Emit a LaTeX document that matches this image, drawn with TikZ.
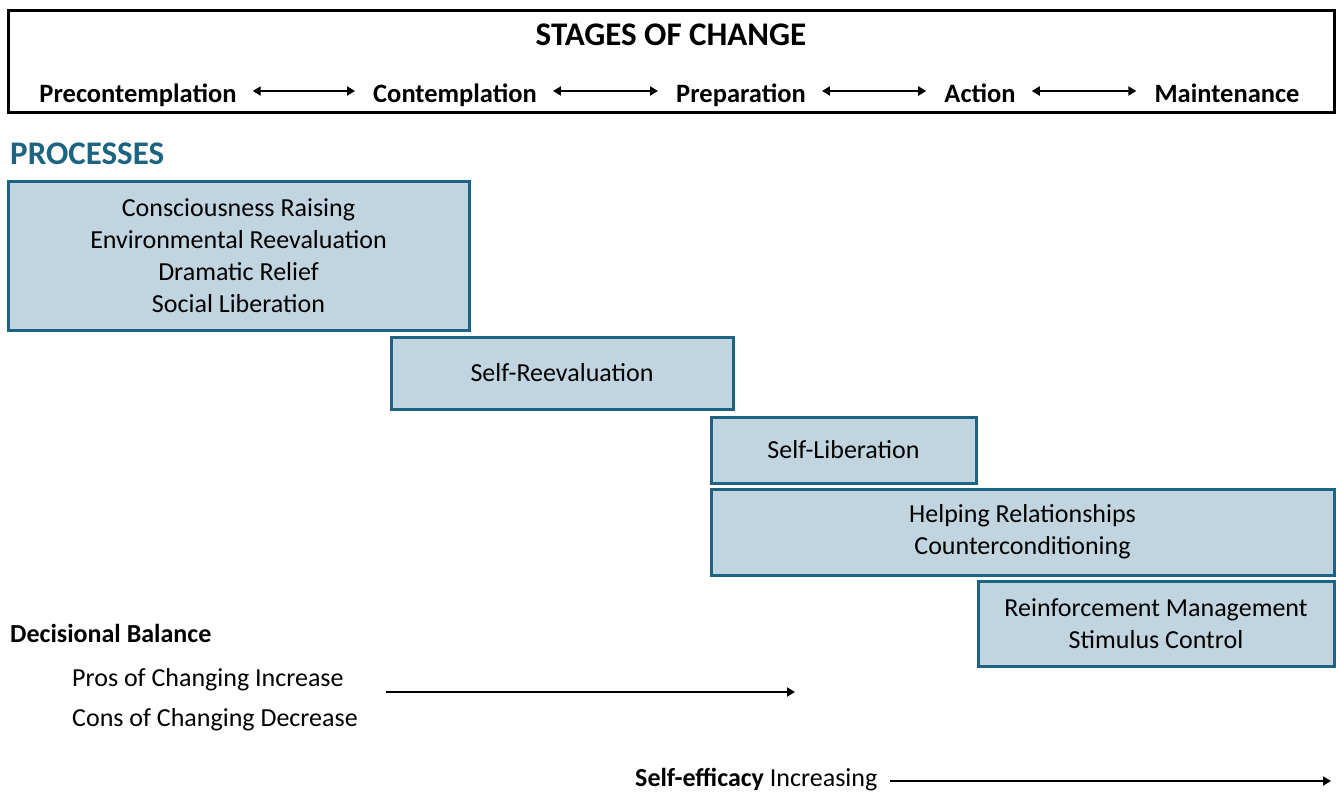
\documentclass[tikz,border=0pt]{standalone}
\usepackage{fontspec}
\setmainfont{Carlito}
\usetikzlibrary{arrows.meta}
\definecolor{teal1}{HTML}{1D6482}
\definecolor{boxfill}{HTML}{C1D5E0}
\begin{document}
\begin{tikzpicture}[x=1pt,y=-1pt,
  stage/.style={font=\fontsize{26.5}{30}\selectfont\bfseries, inner sep=0pt, anchor=base},
  flow/.style={line width=2.6pt, {Triangle[length=8pt,width=9pt]}-{Triangle[length=8pt,width=9pt]}, shorten <=16pt, shorten >=18pt},
  onearrow/.style={line width=2.8pt, -{Triangle[length=8pt,width=9pt]}},
  procbox/.style={draw=teal1, line width=3pt, fill=boxfill, inner sep=0pt, align=center,
    font=\fontsize{26}{32}\selectfont},
  plain/.style={font=\fontsize{26}{30}\selectfont, inner sep=0pt, anchor=base west}
]
\useasboundingbox (0,0) rectangle (1336,793);
\fill[white] (0,0) rectangle (1336,793);

% header frame with the five stages
\node[draw=black, line width=3pt, minimum width=1326pt, minimum height=102pt, inner sep=0pt] (hdr) at (671,61) {};
\node[font=\fontsize{33}{36}\selectfont\bfseries, inner sep=0pt, anchor=base] (title) at (671,45) {STAGES OF CHANGE};
\node[stage] (pre) at (138,102) {Precontemplation};
\node[stage] (con) at (455,102) {Contemplation};
\node[stage] (prep) at (741,102) {Preparation};
\node[stage] (act) at (980,102) {Action};
\node[stage] (mnt) at (1227,102) {Maintenance};
\draw[flow] ([yshift=11pt]pre.base east) -- ([yshift=11pt]con.base west);
\draw[flow] ([yshift=11pt]con.base east) -- ([yshift=11pt]prep.base west);
\draw[flow] ([yshift=11pt]prep.base east) -- ([yshift=11pt]act.base west);
\draw[flow] ([yshift=11pt]act.base east) -- ([yshift=11pt]mnt.base west);

% processes of change
\node[font=\fontsize{33}{36}\selectfont\bfseries, text=teal1, inner sep=0pt, anchor=base west] (proc) at (10,164) {PROCESSES};

\node[procbox, minimum width=461pt, minimum height=149pt] (b1) at (238.5,255.5)
  {Consciousness Raising\\Environmental Reevaluation\\Dramatic Relief\\Social Liberation};
\node[procbox, minimum width=342pt, minimum height=72pt] (b2) at (562,373) {Self-Reevaluation};
\node[procbox, minimum width=265pt, minimum height=66pt] (b3) at (843.5,450) {Self-Liberation};
\node[procbox, minimum width=623pt, minimum height=86pt] (b4) at (1022.5,532) {Helping Relationships\\Counterconditioning};
\node[procbox, minimum width=356pt, minimum height=85pt] (b5) at (1156,623.5) {Reinforcement Management\\Stimulus Control};

% decisional balance
\node[plain, font=\fontsize{26}{30}\selectfont\bfseries] (db) at (10,642) {Decisional Balance};
\node[plain] (pros) at (72,686) {Pros of Changing Increase};
\node[plain] (cons) at (72,726) {Cons of Changing Decrease};
\coordinate (dbs) at (386,692);
\coordinate (dbe) at (795,692);
\draw[onearrow] (dbs) -- (dbe);

% self-efficacy
\node[plain] (se) at (635,786.5) {\textbf{Self-efficacy} Increasing};
\coordinate (see) at (1331,781);
\draw[onearrow] (se.east |- see) ++(13,0) -- (see);
\end{tikzpicture}
\end{document}
